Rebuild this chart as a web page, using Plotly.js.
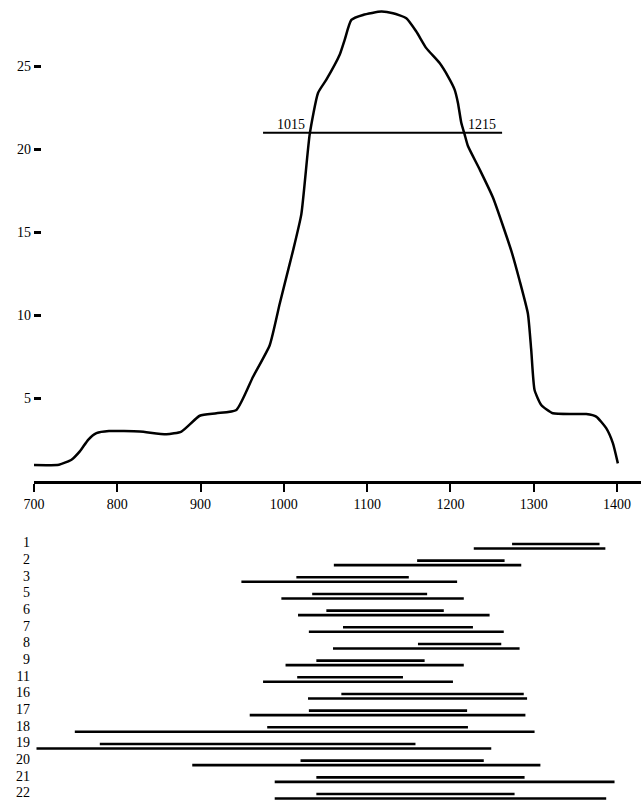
<!DOCTYPE html>
<html>
<head>
<meta charset="utf-8">
<script src="https://cdn.plot.ly/plotly-3.0.1.min.js"></script>
<style>html,body{margin:0;padding:0;background:#fff;}#chart{width:641px;height:804px;}</style>
</head>
<body>
<div id="chart"></div>
<script>
// Top panel: curve
const curveX = [700,730,745,755,765,775,790,827,859,877,899,919,943,963,983,995,1007,1011,1021,1031,1041,1051,1067,1073,1081,1095,1117,1131,1147,1159,1171,1187,1197,1205,1209,1213,1217,1221,1235,1251,1273,1283,1293,1297,1301,1309,1323,1363,1375,1387,1395,1401];
const curveY = [0.98,1.0,1.3,1.8,2.5,2.9,3.03,3.0,2.83,3.0,3.95,4.1,4.3,6.3,8.2,10.7,13.1,13.9,16.1,20.9,23.4,24.2,25.7,26.6,27.8,28.1,28.3,28.2,27.9,27.1,26.1,25.2,24.4,23.6,22.8,21.6,20.9,20.2,18.8,17.1,13.9,12.1,10.1,7.9,5.5,4.6,4.1,4.05,3.9,3.2,2.3,1.08];

// Reference line at half height
const refLineX = [975, 1262];
const refLineY = 21;
const refLabels = ['1015', '1215'];
const refLabelX = [1028, 1219];

// Bottom panel: paired segments
const rowLabels = ['1','2','3','5','6','7','8','9','11','16','17','18','19','20','21','22'];
const upperStart = [1274,1160,1015,1034,1051,1071,1161,1039,1016,1069,1030,980,779,1020,1039,1039];
const upperEnd   = [1379,1265,1150,1172,1192,1227,1261,1169,1143,1288,1220,1221,1158,1240,1289,1277];
const lowerStart = [1228,1060,949,997,1017,1030,1059,1002,975,1029,959,749,703,890,989,989];
const lowerEnd   = [1386,1285,1208,1216,1247,1264,1283,1216,1203,1292,1290,1301,1249,1308,1397,1387];

const font = {family: 'Liberation Serif, Times New Roman, serif', size: 14, color: '#000'};

function segs(starts, ends, off) {
  const x = [], y = [];
  starts.forEach((s, i) => { x.push(s, ends[i], null); y.push(i + off, i + off, null); });
  return {x, y};
}
const up = segs(upperStart, upperEnd, 0.0);
const lo = segs(lowerStart, lowerEnd, 0.27);

const traces = [
  {x: curveX, y: curveY, type: 'scatter', mode: 'lines', line: {color: '#000', width: 2.5, shape: 'spline', smoothing: 0.5}, xaxis: 'x', yaxis: 'y', hoverinfo: 'skip'},
  {x: refLineX, y: [refLineY, refLineY], type: 'scatter', mode: 'lines', line: {color: '#000', width: 2.2}, xaxis: 'x', yaxis: 'y'},
  {x: up.x, y: up.y, type: 'scatter', mode: 'lines', line: {color: '#000', width: 2.6}, xaxis: 'x2', yaxis: 'y2', connectgaps: false},
  {x: lo.x, y: lo.y, type: 'scatter', mode: 'lines', line: {color: '#000', width: 2.6}, xaxis: 'x2', yaxis: 'y2', connectgaps: false}
];

const xr = [700, 700 + 607 / 0.8329];
const layout = {
  width: 641, height: 804,
  margin: {l: 34, r: 0, t: 0, b: 0},
  paper_bgcolor: '#fff', plot_bgcolor: '#fff',
  showlegend: false,
  font: font,
  xaxis: {
    domain: [0, 1], range: xr, anchor: 'y',
    tickvals: [700,800,900,1000,1100,1200,1300,1400],
    ticks: 'outside', ticklen: 8, tickwidth: 2, tickcolor: '#000',
    showline: true, linewidth: 2.5, linecolor: '#000',
    showgrid: false, zeroline: false, tickfont: font
  },
  yaxis: {
    domain: [(804 - 481.3) / 804, 1], range: [0, 29], anchor: 'x',
    tickvals: [5,10,15,20,25],
    ticks: 'inside', ticklen: 7, tickwidth: 2.5, tickcolor: '#000',
    showline: false, showgrid: false, zeroline: false, tickfont: font,
    ticklabelstandoff: 2
  },
  xaxis2: {
    domain: [0, 1], range: xr, anchor: 'y2',
    visible: false, showgrid: false, zeroline: false
  },
  yaxis2: {
    domain: [0, (804 - 527.3) / 804], range: [15.6, -1], anchor: 'x2',
    tickmode: 'array', tickvals: rowLabels.map((_, i) => i - 0.1), ticktext: rowLabels,
    ticks: '', showline: false, showgrid: false, zeroline: false, tickfont: font,
    ticklabelstandoff: 3
  },
  annotations: [
    {x: refLabelX[0], y: refLineY, xref: 'x', yref: 'y', text: refLabels[0], showarrow: false, xanchor: 'right', yanchor: 'bottom', font: font, yshift: -1},
    {x: refLabelX[1], y: refLineY, xref: 'x', yref: 'y', text: refLabels[1], showarrow: false, xanchor: 'left', yanchor: 'bottom', font: font, yshift: -1}
  ]
};

Plotly.newPlot('chart', traces, layout, {staticPlot: true, displayModeBar: false});
</script>
</body>
</html>
